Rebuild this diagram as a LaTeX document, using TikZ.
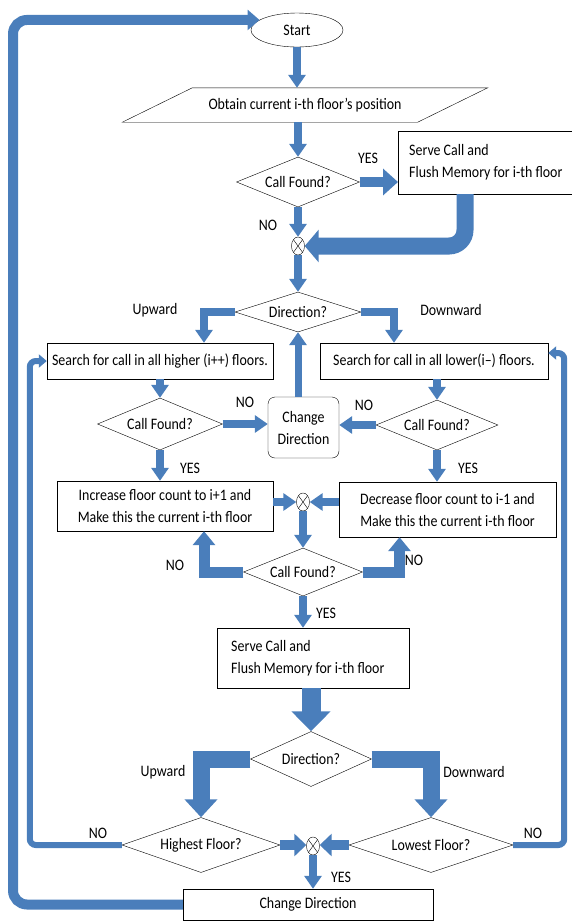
\documentclass[tikz,border=0pt]{standalone}
\usepackage{fontspec}
\setmainfont{Carlito}[FakeStretch=0.87]
\usetikzlibrary{shapes.geometric, arrows.meta, positioning, calc}
\definecolor{flowblue}{HTML}{4A7EBB}

\begin{document}
\begin{tikzpicture}[x=1pt,y=-1pt,font=\fontsize{16}{22}\selectfont,
  decision/.style={diamond,draw,inner sep=0pt,shape aspect=2.6},
  procbox/.style={rectangle,draw,inner sep=0pt,align=center},
  mergept/.style={ellipse,draw,fill=white,inner sep=0pt,minimum width=13pt,minimum height=18pt,
    path picture={\draw (path picture bounding box.north west) -- (path picture bounding box.south east)
      (path picture bounding box.north east) -- (path picture bounding box.south west);}},
  flow/.style={draw=flowblue,line width=8pt,-{Triangle[width=17pt,length=13pt]}},
  bigflow/.style={draw=flowblue,line width=17pt,-{Triangle[width=32pt,length=18pt]}},
  loopflow/.style={draw=flowblue,line width=6pt,rounded corners=6pt,-{Triangle[width=13pt,length=8pt]}},
  lbl/.style={inner sep=0pt}]
  \useasboundingbox (0,0) rectangle (571,922);

  % upper part
  \node[ellipse,draw,minimum width=92pt,minimum height=34pt,inner sep=0pt] (start) at (297,30) {Start};
  \node[minimum width=295pt,minimum height=34pt,inner sep=0pt] (obtain) at (305,105) {Obtain current i-th floor's position};
  \draw ([xshift=-35pt]obtain.south west) -- ([xshift=35pt]obtain.north west)
    -- ([xshift=35pt]obtain.north east) -- ([xshift=-35pt]obtain.south east) -- cycle;
  \node[decision,minimum width=123pt,minimum height=50pt] (found1) at (298,182) {Call Found?};
  \node[procbox,align=flush left,inner xsep=11pt,minimum height=63pt,anchor=west] (serve1) at (398,162.5)
    {Serve Call and\\Flush Memory for i-th floor};
  \node[mergept] (merge1) at (298,246) {};
  \node[decision,minimum width=126pt,minimum height=40pt] (dir1) at (298,312) {Direction?};

  % search loop
  \node[procbox,minimum width=226pt,minimum height=36pt] (searchup) at (160,361) {Search for call in all higher (i++) floors.};
  \node[procbox,minimum width=228pt,minimum height=36pt] (searchdown) at (434,361) {Search for call in all lower(i--) floors.};
  \node[decision,minimum width=125pt,minimum height=52pt] (foundup) at (160,424) {Call Found?};
  \node[decision,minimum width=122pt,minimum height=50pt] (founddown) at (437,425) {Call Found?};
  \node[procbox,rounded corners=7pt,minimum width=71pt,minimum height=61pt] (chdir1) at (303.5,427.5) {Change\\Direction};
  \node[procbox,minimum width=216pt,minimum height=50pt] (incr) at (165,506)
    {Increase floor count to i+1 and\\Make this the current i-th floor};
  \node[procbox,minimum width=217pt,minimum height=55pt] (decr) at (447.5,509.5)
    {Decrease floor count to i-1 and\\Make this the current i-th floor};
  \node[mergept] (merge2) at (303,502) {};
  \node[decision,minimum width=119pt,minimum height=48pt] (found3) at (303,572) {Call Found?};

  % lower part
  \node[procbox,align=flush left,text width=164pt,inner xsep=14pt,minimum height=60pt,anchor=west] (serve2) at (217,658)
    {Serve Call and\\Flush Memory for i-th floor};
  \node[decision,minimum width=121pt,minimum height=55pt] (dir2) at (311,759) {Direction?};
  \node[decision,minimum width=158pt,minimum height=55pt] (highest) at (201,845) {Highest Floor?};
  \node[decision,minimum width=164pt,minimum height=55pt] (lowest) at (431,845) {Lowest Floor?};
  \node[mergept] (merge3) at (313,846) {};
  \node[procbox,minimum width=250pt,minimum height=31pt] (chdir2) at (308,904.5) {Change Direction};
  \coordinate (loopleft) at (13,0);

  % labels
  \node[lbl] (yes1) at (368,158) {YES};
  \node[lbl] (no1) at (268,225) {NO};
  \node[lbl] (up1) at (155,310) {Upward};
  \node[lbl] (down1) at (451,310) {Downward};
  \node[lbl] (noup) at (245,402) {NO};
  \node[lbl] (nodown) at (364,405) {NO};
  \node[lbl] (yesup) at (190,468) {YES};
  \node[lbl] (yesdown) at (468,468) {YES};
  \node[lbl] (no3l) at (175,565) {NO};
  \node[lbl] (no3r) at (414,560) {NO};
  \node[lbl] (yes3) at (326,613) {YES};
  \node[lbl] (up2) at (163,772) {Upward};
  \node[lbl] (down2) at (474,772) {Downward};
  \node[lbl] (nohigh) at (98,833) {NO};
  \node[lbl] (nolow) at (533,833) {NO};
  \node[lbl] (yes4) at (341,877) {YES};

  % connectors
  \draw[flow] (start.south) -- (start.south |- obtain.north);
  \draw[flow] (found1.north |- obtain.south) -- (found1.north);
  \draw[flow,line width=10pt,-{Triangle[width=26pt,length=15pt]}] (found1.east) -- (found1.east -| serve1.west);
  \draw[bigflow,rounded corners=16pt,-{Triangle[width=32pt,length=14pt]}] (465,0 |- serve1.south) |- (merge1.east);
  \draw[flow] (found1.south) -- (merge1.north);
  \draw[flow] (merge1.south) -- (dir1.north);
  \draw[flow] (dir1.west) -| ([xshift=44pt]searchup.north);
  \draw[flow] (dir1.east) -| ([xshift=-40pt]searchdown.north);
  \draw[flow] (searchup.south) -- (foundup.north);
  \draw[flow] (searchdown.south -| founddown.north) -- (founddown.north);
  \draw[flow] (foundup.east) -- (foundup.east -| chdir1.west);
  \draw[flow] (founddown.west) -- (founddown.west -| chdir1.east);
  \draw[flow,line width=7pt] (dir1.south |- chdir1.north) -- (dir1.south);
  \draw[flow] (foundup.south) -- (foundup.south |- incr.north);
  \draw[flow] (founddown.south) -- (founddown.south |- decr.north);
  \draw[flow] (merge2.west -| incr.east) -- (merge2.west);
  \draw[flow] (merge2.east -| decr.west) -- (merge2.east);
  \draw[flow] (merge2.south) -- (found3.north);
  \draw[flow,line width=11pt,-{Triangle[width=22pt,length=14pt]}] (found3.west) -| ([xshift=39pt]incr.south);
  \draw[flow,line width=11pt,-{Triangle[width=22pt,length=14pt]}] (found3.east) -| ([xshift=-48pt]decr.south);
  \draw[flow] (found3.south) -- (found3.south |- serve2.north);
  \draw[bigflow,line width=19pt,-{Triangle[width=38pt,length=20pt]}] (dir2.north |- serve2.south) -- (dir2.north);
  \draw[bigflow] (dir2.west) -| (highest.north);
  \draw[bigflow] (dir2.east) -| (lowest.north);
  \draw[flow,line width=10pt,-{Triangle[width=22pt,length=12pt]}] (highest.east) -- (highest.east -| merge3.west);
  \draw[flow,line width=10pt,-{Triangle[width=22pt,length=12pt]}] (lowest.west) -- (lowest.west -| merge3.east);
  \draw[flow] (merge3.south) -- (merge3.south |- chdir2.north);
  \draw[loopflow] (highest.west) -| ([xshift=-17pt]searchup.west) -- (searchup.west);
  \draw[loopflow] (lowest.east) -| ([xshift=16pt,yshift=8pt]searchdown.east) -- ([yshift=8pt]searchdown.east);
  \draw[loopflow,line width=10pt,rounded corners=14pt,-{Triangle[width=20pt,length=12pt]}]
    (chdir2.west) -| (loopleft |- start.165) -- (start.165);
\end{tikzpicture}
\end{document}
